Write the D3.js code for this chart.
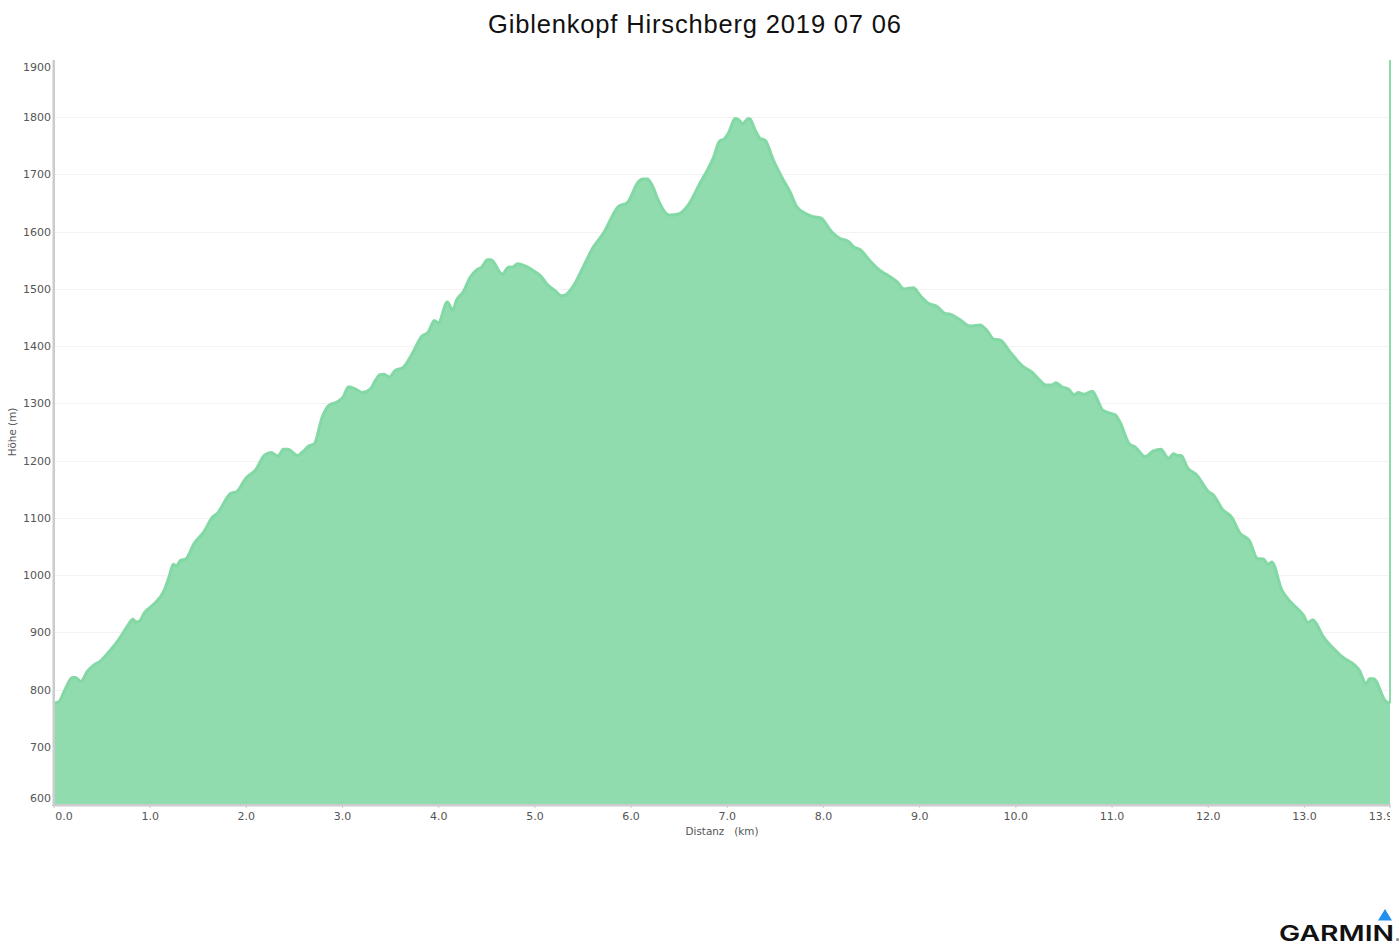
<!DOCTYPE html>
<html><head><meta charset="utf-8">
<script src="https://cdn.jsdelivr.net/npm/d3@7"></script>
<style>html,body{margin:0;padding:0;background:#fff;overflow:hidden}svg{display:block}</style>
</head><body><svg id="c" width="1400" height="942"></svg>
<script>
const titleText="Giblenkopf Hirschberg 2019 07 06";
const xLabel="Distanz   (km)";
const yLabel="Höhe (m)";
const xTicks=[0,1,2,3,4,5,6,7,8,9,10,11,12,13,13.9];
const yTicks=[600,700,800,900,1000,1100,1200,1300,1400,1500,1600,1700,1800,1900];
const gridValues=[700,800,900,1000,1100,1200,1300,1400,1500,1600,1700,1800];
const distKm=[0,.052,.104,.19,.225,.277,.347,.416,.485,.572,.676,.763,.821,.849,.884,.943,1.023,1.144,1.196,1.241,1.272,1.317,1.369,1.456,1.56,1.646,1.698,1.837,1.9,1.993,2.097,2.191,2.26,2.329,2.385,2.433,2.53,2.582,2.652,2.704,2.79,2.86,2.946,3.009,3.061,3.137,3.206,3.293,3.345,3.389,3.431,3.486,3.545,3.632,3.718,3.822,3.892,3.954,3.996,4.089,4.145,4.186,4.256,4.325,4.394,4.446,4.505,4.543,4.661,4.723,4.776,4.817,4.914,5.001,5.07,5.122,5.209,5.278,5.313,5.406,5.503,5.607,5.711,5.867,5.961,6.075,6.12,6.169,6.214,6.283,6.37,6.405,6.491,6.595,6.717,6.803,6.855,6.918,6.966,7.011,7.081,7.115,7.161,7.22,7.237,7.289,7.341,7.393,7.479,7.584,7.652,7.721,7.825,7.895,7.971,8.085,8.172,8.259,8.311,8.38,8.484,8.581,8.657,8.761,8.837,8.935,9.004,9.09,9.184,9.264,9.316,9.42,9.524,9.628,9.697,9.773,9.836,9.94,10.078,10.165,10.252,10.311,10.373,10.418,10.477,10.546,10.605,10.65,10.702,10.796,10.841,10.903,10.98,11.032,11.084,11.181,11.24,11.344,11.43,11.507,11.587,11.639,11.68,11.718,11.784,11.881,12.002,12.054,12.152,12.245,12.332,12.429,12.512,12.574,12.62,12.661,12.765,12.852,12.99,13.036,13.087,13.198,13.389,13.573,13.642,13.677,13.718,13.847,13.89];
const elevM=[776,779,796,821,821,814,832,843,850,866,888,911,923,918,919,935,947,973,997,1019,1016,1026,1028,1055,1076,1101,1108,1143,1146,1169,1184,1210,1214,1208,1220,1220,1209,1215,1226,1229,1277,1297,1303,1312,1329,1325,1319,1326,1341,1350,1351,1346,1357,1363,1385,1417,1425,1445,1441,1477,1463,1481,1495,1520,1533,1538,1551,1551,1526,1538,1539,1544,1539,1530,1521,1509,1497,1488,1489,1507,1539,1573,1597,1644,1651,1687,1692,1692,1683,1655,1631,1629,1631,1647,1685,1711,1729,1758,1762,1772,1798,1796,1789,1798,1797,1778,1763,1760,1725,1690,1670,1644,1631,1626,1624,1600,1588,1583,1574,1569,1549,1533,1525,1513,1500,1502,1489,1475,1469,1457,1456,1446,1435,1437,1428,1412,1411,1390,1364,1355,1340,1332,1332,1336,1329,1325,1315,1319,1316,1321,1309,1288,1283,1280,1267,1229,1224,1207,1217,1220,1204,1212,1209,1209,1188,1175,1146,1140,1114,1101,1073,1060,1029,1028,1019,1023,974,954,930,917,922,892,858,833,810,819,819,779,776];
const xMax=13.89, yMin=600, yMax=1900;

const svg=d3.select("#c");
const x=d3.scaleLinear().domain([0,xMax]).range([54,1390]);
const y=d3.scaleLinear().domain([yMin,yMax]).range([804,60]);
const pts=distKm.map((d,i)=>[d,elevM[i]]);
const defs=svg.append("defs");
defs.append("clipPath").attr("id","pc").append("rect").attr("x",54).attr("y",50).attr("width",1337).attr("height",756);
defs.append("clipPath").attr("id","lc").append("rect").attr("x",0).attr("y",806).attr("width",1390).attr("height",30);
const font="'DejaVu Sans',sans-serif", tc="#555", markColor="#7fd7a2";

svg.append("text").attr("x",694.5).attr("y",33).attr("text-anchor","middle")
 .attr("font-family","'Liberation Sans',Arial,sans-serif").attr("font-size",25.5)
 .attr("textLength",413).attr("lengthAdjust","spacing").attr("fill","#111").text(titleText);

svg.append("g").selectAll("line").data(gridValues).join("line")
 .attr("x1",54).attr("x2",1390).attr("y1",d=>Math.round(y(d))+.5).attr("y2",d=>Math.round(y(d))+.5)
 .attr("stroke","#f3f3f3").attr("stroke-width",1);

const area=d3.area().x(d=>x(d[0])).y0(y(yMin)).y1(d=>y(d[1])).curve(d3.curveMonotoneX);
const line=d3.line().x(d=>x(d[0])).y(d=>y(d[1])).curve(d3.curveMonotoneX);
const g=svg.append("g").attr("clip-path","url(#pc)");
g.append("path").attr("d",area(pts)).attr("fill",markColor).attr("fill-opacity",.87);
g.append("path").attr("d",line(pts)).attr("fill","none").attr("stroke",markColor).attr("stroke-opacity",.95).attr("stroke-width",3).attr("stroke-linejoin","round");
g.append("line").attr("x1",x(xMax)).attr("x2",x(xMax)).attr("y1",y(yMax)).attr("y2",y(elevM[elevM.length-1]))
 .attr("stroke",markColor).attr("stroke-opacity",.9).attr("stroke-width",2);

// axes
svg.append("rect").attr("x",52.5).attr("y",60).attr("width",2.5).attr("height",746).attr("fill","#cccccc");
svg.append("rect").attr("x",52.5).attr("y",804).attr("width",1338).attr("height",2.5).attr("fill","#cccccc");
svg.append("g").selectAll("line").data(xTicks).join("line")
 .attr("x1",d=>Math.min(x(d),1390)).attr("x2",d=>Math.min(x(d),1390)).attr("y1",805).attr("y2",808).attr("stroke","#ccc");

const xl=svg.append("g").attr("clip-path","url(#lc)");
xl.selectAll("text").data(xTicks).join("text")
 .attr("x",d=>d===0?x(d)+10:Math.min(x(d),1381)).attr("y",820).attr("text-anchor","middle")
 .attr("font-family",font).attr("font-size",11).attr("fill",tc).text(d=>d3.format(".1f")(d));
svg.append("g").selectAll("text").data(yTicks).join("text")
 .attr("x",51).attr("y",d=>(d===600?y(d)-6:d===1900?y(d)+7:y(d))+4).attr("text-anchor","end")
 .attr("font-family",font).attr("font-size",11).attr("fill",tc).text(d=>d);
svg.append("text").attr("x",722).attr("y",835).attr("text-anchor","middle").style("white-space","pre")
 .attr("font-family",font).attr("font-size",10.4).attr("fill",tc).text(xLabel);
svg.append("text").attr("transform","translate(16,432) rotate(-90)").attr("text-anchor","middle")
 .attr("font-family",font).attr("font-size",10.4).attr("fill",tc).text(yLabel);

// logo
svg.append("path").attr("d","M1378,920.5L1385,909L1392,920.5Z").attr("fill","#2090f0");
svg.append("text").attr("x",1279).attr("y",941).attr("font-family","Inter,'Liberation Sans',Arial,sans-serif").attr("font-weight",600)
 .attr("font-size",22).attr("textLength",115).attr("lengthAdjust","spacingAndGlyphs").attr("fill","#111").text("GARMIN");
svg.append("circle").attr("cx",1397.5).attr("cy",939.5).attr("r",1.5).attr("fill","#888");
</script></body></html>
